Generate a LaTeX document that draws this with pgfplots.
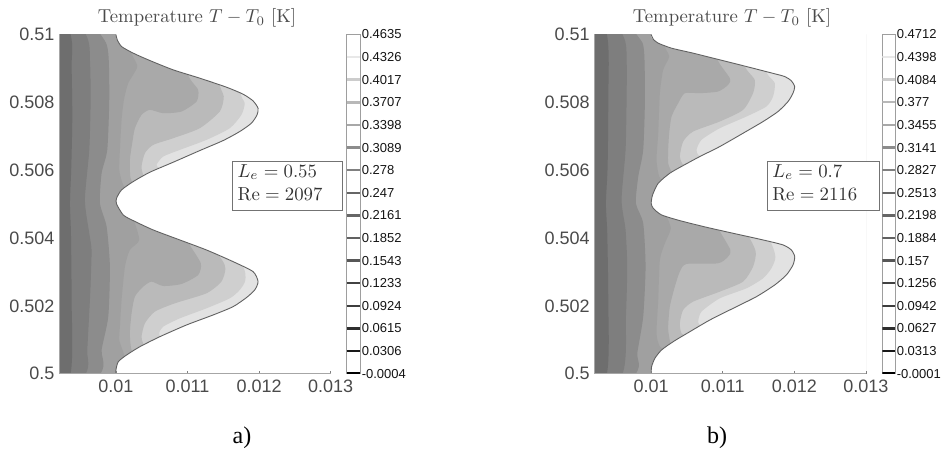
\documentclass[border=0pt]{standalone}
\usepackage{fontspec}
\usepackage{pgfplots}
\pgfplotsset{compat=1.18}
\newfontfamily\arial{Liberation Sans}
\newfontfamily\timesf{Liberation Serif}
\definecolor{cA}{HTML}{6E6E6E}
\definecolor{cB}{HTML}{7E7E7E}
\definecolor{cC}{HTML}{8C8C8C}
\definecolor{cD}{HTML}{A0A0A0}
\definecolor{cE}{HTML}{A9A9A9}
\definecolor{cF}{HTML}{BABABA}
\definecolor{cG}{HTML}{CFCFCF}
\definecolor{cH}{HTML}{E2E2E2}
\definecolor{lbl}{HTML}{4A4A4A}
\pgfplotsset{
 mainax/.style={
  scale only axis, width=272pt, height=339.2pt,
  xmin=0.009205, xmax=0.013005, ymin=0.5, ymax=0.51,
  axis on top, axis x line=bottom, axis y line=left,
  axis line style={-, draw=black!35, line width=0.9pt},
  scaled x ticks=false, scaled y ticks=false,
  xtick={0.01,0.011,0.012,0.013}, xticklabels={0.01,0.011,0.012,0.013},
  ytick={0.5,0.502,0.504,0.506,0.508,0.51},
  yticklabels={0.5,0.502,0.504,0.506,0.508,0.51},
  tick align=inside, major tick length=3pt,
  x tick style={draw=black!50, line width=0.6pt},
  y tick style={draw=none},
  xticklabel style={font=\arial\fontsize{18}{18}\selectfont, text=lbl, inner sep=0pt, yshift=-6pt},
  yticklabel style={font=\arial\fontsize{18}{18}\selectfont, text=lbl, inner sep=0pt, xshift=-4.5pt},
 },
 cbax/.style={
  scale only axis, height=339.2pt,
  xmin=0, xmax=1, axis line style={draw=black!38, line width=1pt},
  scaled y ticks=false,
  xtick=\empty, ytick pos=right, yticklabel pos=right,
  major tick length=0pt,
  yticklabel style={font=\arial\fontsize{13}{13}\selectfont, text=black!92, inner sep=0pt, anchor=west, xshift=1.6pt},
 },
 cbar/.style={draw=black!#1, line width=2.4pt, forget plot},
 reg/.style={fill=#1, draw=none, forget plot, smooth, tension=0.4},
}
\begin{document}
\begin{tikzpicture}[x=1pt,y=1pt]
\useasboundingbox (0,0) rectangle (942,452);

% ---------------- panel a
\begin{axis}[mainax, at={(59pt,78.3pt)}, anchor=south west]
\addplot[fill=cH, draw=none, forget plot] coordinates {(0.009,0.5)(0.0132,0.5)(0.0132,0.51)(0.009,0.51)} \closedcycle;
\addplot[reg=cG] coordinates {(0.009,0.512)(0.012102,0.51)(0.011753,0.508368)(0.0118,0.507975)(0.011753,0.50763)(0.011591,0.507237)(0.011265,0.506893)(0.010893,0.506598)(0.01066,0.506401)(0.010567,0.506155)(0.010605,0.506057)(0.01066,0.50591)(0.011172,0.505005)(0.011753,0.503255)(0.011809,0.502763)(0.01173,0.502468)(0.011591,0.502222)(0.011265,0.501927)(0.010893,0.501632)(0.01066,0.501386)(0.010605,0.50119)(0.01066,0.500993)(0.011172,0.5)(0.009,0.498)};
\addplot[reg=cF] coordinates {(0.009,0.512)(0.01173,0.51)(0.011451,0.508663)(0.011507,0.508171)(0.011451,0.507729)(0.011172,0.507237)(0.0108,0.506942)(0.010521,0.506745)(0.010405,0.506500)(0.010358,0.506106)(0.010381,0.50586)(0.010428,0.505664)(0.010893,0.505005)(0.011451,0.503451)(0.01153,0.503107)(0.011474,0.502714)(0.011265,0.50237)(0.010823,0.502075)(0.010544,0.501829)(0.010405,0.501485)(0.010358,0.501091)(0.010381,0.500895)(0.010451,0.500698)(0.010893,0.5)(0.009,0.498)};
\addplot[reg=cE] coordinates {(0.009,0.512)(0.011405,0.51)(0.011009,0.508909)(0.011149,0.508368)(0.011126,0.508024)(0.010916,0.507729)(0.01066,0.50768)(0.010474,0.507778)(0.010358,0.50763)(0.010265,0.507237)(0.010228,0.506795)(0.010195,0.506303)(0.010205,0.505762)(0.010288,0.505516)(0.010707,0.505005)(0.010986,0.504140)(0.011033,0.503796)(0.011186,0.503255)(0.011149,0.50291)(0.010916,0.502645)(0.01066,0.502586)(0.010498,0.502714)(0.010381,0.502566)(0.010265,0.502271)(0.010219,0.50178)(0.010195,0.50119)(0.010219,0.500698)(0.010335,0.500501)(0.010707,0.5)(0.009,0.498)};
\addplot[reg=cD] coordinates {(0.009,0.512)(0.010567,0.51)(0.010219,0.509548)(0.010298,0.509056)(0.010172,0.508565)(0.010112,0.508073)(0.010079,0.507483)(0.010056,0.506598)(0.010047,0.506008)(0.010093,0.505615)(0.010172,0.505369)(0.010474,0.505005)(0.010219,0.50473)(0.010242,0.504582)(0.010326,0.503943)(0.010195,0.503648)(0.010126,0.503156)(0.010079,0.502173)(0.010056,0.501386)(0.010047,0.500993)(0.010102,0.500649)(0.010172,0.500305)(0.010567,0.5)(0.009,0.498)};
\addplot[reg=cC] coordinates {(0.009,0.512)(0.009786,0.51)(0.009893,0.50945)(0.009907,0.508073)(0.009879,0.506598)(0.0098,0.50591)(0.009777,0.505025)(0.00987,0.504336)(0.009916,0.503156)(0.009893,0.501681)(0.0098,0.500698)(0.009786,0.5)(0.009,0.498)};
\addplot[reg=cB] coordinates {(0.009,0.512)(0.009581,0.51)(0.009637,0.509253)(0.009647,0.508073)(0.009628,0.506598)(0.009567,0.505123)(0.009628,0.50414)(0.00966,0.503648)(0.009647,0.502665)(0.009637,0.502173)(0.0096,0.500698)(0.009581,0.5)(0.009,0.498)};
\addplot[reg=cA] coordinates {(0.009,0.512)(0.009367,0.51)(0.009381,0.509056)(0.009391,0.507581)(0.009377,0.506106)(0.009358,0.505025)(0.009372,0.50414)(0.009381,0.502173)(0.009367,0.5)(0.009,0.498)};
\addplot[reg=white] coordinates {(0.0132,0.512)(0.01,0.511)(0.01,0.51)(0.010019,0.509843)(0.010079,0.509646)(0.010242,0.50945)(0.010474,0.509233)(0.0108,0.508958)(0.011172,0.508712)(0.011544,0.508447)(0.011777,0.50824)(0.011916,0.508043)(0.011986,0.507827)(0.011972,0.50763)(0.011893,0.507385)(0.01173,0.507139)(0.011498,0.506873)(0.011172,0.506578)(0.0108,0.506234)(0.010474,0.505939)(0.010242,0.505664)(0.010079,0.505418)(0.010009,0.505172)(0.010009,0.505005)(0.010102,0.504681)(0.010242,0.504513)(0.010521,0.504238)(0.010893,0.503943)(0.011265,0.503648)(0.011637,0.503304)(0.011916,0.503009)(0.011986,0.502714)(0.011939,0.502468)(0.011823,0.502242)(0.011637,0.501976)(0.011358,0.501731)(0.010986,0.501436)(0.010614,0.501091)(0.010335,0.500796)(0.010149,0.500551)(0.010033,0.500354)(0.01,0.500108)(0.01,0.5)(0.01,0.499)(0.0132,0.498)};
\addplot[draw=black!62, line width=0.9pt, forget plot, smooth, tension=0.4] coordinates {(0.01,0.51)(0.010019,0.509843)(0.010079,0.509646)(0.010242,0.50945)(0.010474,0.509233)(0.0108,0.508958)(0.011172,0.508712)(0.011544,0.508447)(0.011777,0.50824)(0.011916,0.508043)(0.011986,0.507827)(0.011972,0.50763)(0.011893,0.507385)(0.01173,0.507139)(0.011498,0.506873)(0.011172,0.506578)(0.0108,0.506234)(0.010474,0.505939)(0.010242,0.505664)(0.010079,0.505418)(0.010009,0.505172)(0.010009,0.505005)(0.010102,0.504681)(0.010242,0.504513)(0.010521,0.504238)(0.010893,0.503943)(0.011265,0.503648)(0.011637,0.503304)(0.011916,0.503009)(0.011986,0.502714)(0.011939,0.502468)(0.011823,0.502242)(0.011637,0.501976)(0.011358,0.501731)(0.010986,0.501436)(0.010614,0.501091)(0.010335,0.500796)(0.010149,0.500551)(0.010033,0.500354)(0.01,0.500108)(0.01,0.5)};
\end{axis}

% ---------------- colour bar a
\begin{axis}[cbax, at={(346.7pt,78.3pt)}, anchor=south west, width=13.3pt,
 ymin=-0.0004, ymax=0.4635,
 ytick={-0.0004,0.0306,0.0615,0.0924,0.1233,0.1543,0.1852,0.2161,0.247,0.278,0.3089,0.3398,0.3707,0.4017,0.4326,0.4635},
 yticklabels={-0.0004,0.0306,0.0615,0.0924,0.1233,0.1543,0.1852,0.2161,0.247,0.278,0.3089,0.3398,0.3707,0.4017,0.4326,0.4635}]
\addplot[cbar=100] coordinates {(0,-0.0004)(1,-0.0004)};
\addplot[cbar=90] coordinates {(0,0.0306)(1,0.0306)};
\addplot[cbar=82] coordinates {(0,0.0615)(1,0.0615)};
\addplot[cbar=76] coordinates {(0,0.0924)(1,0.0924)};
\addplot[cbar=74] coordinates {(0,0.1233)(1,0.1233)};
\addplot[cbar=66] coordinates {(0,0.1543)(1,0.1543)};
\addplot[cbar=62] coordinates {(0,0.1852)(1,0.1852)};
\addplot[cbar=60] coordinates {(0,0.2161)(1,0.2161)};
\addplot[cbar=60] coordinates {(0,0.247)(1,0.247)};
\addplot[cbar=50] coordinates {(0,0.278)(1,0.278)};
\addplot[cbar=45] coordinates {(0,0.3089)(1,0.3089)};
\addplot[cbar=34] coordinates {(0,0.3398)(1,0.3398)};
\addplot[cbar=28] coordinates {(0,0.3707)(1,0.3707)};
\addplot[cbar=20] coordinates {(0,0.4017)(1,0.4017)};
\addplot[cbar=9] coordinates {(0,0.4326)(1,0.4326)};
\end{axis}

% ---------------- panel b
\begin{axis}[mainax, at={(594.3pt,78.3pt)}, anchor=south west]
\addplot[fill=cH, draw=none, forget plot] coordinates {(0.009,0.5)(0.0132,0.5)(0.0132,0.51)(0.009,0.51)} \closedcycle;
\addplot[reg=cG] coordinates {(0.009,0.512)(0.012074,0.51)(0.011609,0.509007)(0.011726,0.508565)(0.011702,0.508171)(0.011609,0.507876)(0.01133,0.507581)(0.010958,0.507237)(0.010702,0.506893)(0.010633,0.506598)(0.010656,0.50645)(0.010726,0.506303)(0.011144,0.505005)(0.011633,0.503992)(0.011735,0.503451)(0.011679,0.503107)(0.011563,0.502812)(0.01133,0.502517)(0.010958,0.502222)(0.010702,0.501829)(0.010656,0.501534)(0.010679,0.501436)(0.010772,0.501288)(0.011144,0.5)(0.009,0.498)};
\addplot[reg=cF] coordinates {(0.009,0.512)(0.011702,0.51)(0.011307,0.509155)(0.011446,0.508663)(0.011423,0.50827)(0.011284,0.507778)(0.010958,0.507434)(0.010586,0.507139)(0.010446,0.506844)(0.0104,0.506401)(0.010437,0.506185)(0.010516,0.506057)(0.010958,0.505005)(0.01133,0.50414)(0.01146,0.503599)(0.011423,0.503156)(0.011284,0.502714)(0.010958,0.502419)(0.010586,0.502124)(0.010446,0.501878)(0.0104,0.501485)(0.010423,0.50119)(0.010516,0.501042)(0.010958,0.5)(0.009,0.498)};
\addplot[reg=cE] coordinates {(0.009,0.512)(0.01133,0.51)(0.010912,0.5094)(0.011098,0.508712)(0.011074,0.508515)(0.010935,0.508319)(0.010679,0.50827)(0.01047,0.50827)(0.010377,0.507975)(0.010284,0.507581)(0.010251,0.50709)(0.010237,0.506598)(0.010237,0.506205)(0.010284,0.505959)(0.010353,0.505811)(0.010772,0.505005)(0.010935,0.504287)(0.011107,0.503648)(0.011074,0.503451)(0.010935,0.503255)(0.010493,0.503235)(0.0104,0.503009)(0.01033,0.502566)(0.01026,0.501976)(0.010237,0.501386)(0.010251,0.501091)(0.010307,0.500796)(0.010772,0.5)(0.009,0.498)};
\addplot[reg=cD] coordinates {(0.009,0.512)(0.010586,0.51)(0.010191,0.509745)(0.010251,0.509351)(0.010167,0.508958)(0.010121,0.50827)(0.010098,0.50709)(0.010074,0.506303)(0.010112,0.505811)(0.010191,0.505615)(0.010493,0.505005)(0.010214,0.504779)(0.010274,0.504287)(0.010191,0.503845)(0.010121,0.503353)(0.010098,0.502173)(0.010074,0.50119)(0.010121,0.500796)(0.010237,0.500649)(0.010586,0.5)(0.009,0.498)};
\addplot[reg=cC] coordinates {(0.009,0.512)(0.009795,0.51)(0.009898,0.509548)(0.009912,0.508073)(0.009888,0.506598)(0.009819,0.505811)(0.009786,0.505025)(0.009888,0.504435)(0.009921,0.503156)(0.009888,0.501681)(0.009805,0.5006)(0.009786,0.5)(0.009,0.498)};
\addplot[reg=cB] coordinates {(0.009,0.512)(0.0096,0.51)(0.009656,0.509253)(0.009656,0.508073)(0.009642,0.506598)(0.009586,0.505123)(0.009642,0.504238)(0.009665,0.503156)(0.009647,0.501681)(0.0096,0.5)(0.009,0.498)};
\addplot[reg=cA] coordinates {(0.009,0.512)(0.009381,0.51)(0.0094,0.508073)(0.009391,0.506106)(0.009367,0.505025)(0.009386,0.50414)(0.0094,0.502173)(0.009381,0.5)(0.009,0.498)};
\addplot[reg=white] coordinates {(0.0132,0.512)(0.01,0.511)(0.01,0.51)(0.010028,0.509863)(0.010098,0.509745)(0.010284,0.509597)(0.010586,0.50945)(0.010958,0.509253)(0.01133,0.509056)(0.011656,0.508879)(0.011865,0.508761)(0.011958,0.508633)(0.012005,0.508466)(0.011981,0.50827)(0.011912,0.508024)(0.011772,0.507729)(0.011563,0.507434)(0.011284,0.50709)(0.010958,0.506696)(0.010679,0.506401)(0.010446,0.506136)(0.01026,0.50591)(0.010098,0.505615)(0.010019,0.50527)(0.01,0.505025)(0.010028,0.504877)(0.010144,0.504681)(0.0104,0.504513)(0.010772,0.504317)(0.011144,0.50414)(0.011563,0.503943)(0.011842,0.503796)(0.011958,0.503648)(0.012005,0.503451)(0.011981,0.503206)(0.011888,0.50291)(0.011726,0.502616)(0.01147,0.502271)(0.011144,0.501927)(0.010819,0.501583)(0.01054,0.501239)(0.010307,0.500944)(0.010144,0.500698)(0.010051,0.500452)(0.010005,0.500206)(0.01,0.5)(0.01,0.499)(0.0132,0.498)};
\addplot[draw=black!62, line width=0.9pt, forget plot, smooth, tension=0.4] coordinates {(0.01,0.51)(0.010028,0.509863)(0.010098,0.509745)(0.010284,0.509597)(0.010586,0.50945)(0.010958,0.509253)(0.01133,0.509056)(0.011656,0.508879)(0.011865,0.508761)(0.011958,0.508633)(0.012005,0.508466)(0.011981,0.50827)(0.011912,0.508024)(0.011772,0.507729)(0.011563,0.507434)(0.011284,0.50709)(0.010958,0.506696)(0.010679,0.506401)(0.010446,0.506136)(0.01026,0.50591)(0.010098,0.505615)(0.010019,0.50527)(0.01,0.505025)(0.010028,0.504877)(0.010144,0.504681)(0.0104,0.504513)(0.010772,0.504317)(0.011144,0.50414)(0.011563,0.503943)(0.011842,0.503796)(0.011958,0.503648)(0.012005,0.503451)(0.011981,0.503206)(0.011888,0.50291)(0.011726,0.502616)(0.01147,0.502271)(0.011144,0.501927)(0.010819,0.501583)(0.01054,0.501239)(0.010307,0.500944)(0.010144,0.500698)(0.010051,0.500452)(0.010005,0.500206)(0.01,0.5)};
\end{axis}

% ---------------- colour bar b
\begin{axis}[cbax, at={(882.3pt,78.3pt)}, anchor=south west, width=12.7pt,
 ymin=-0.0001, ymax=0.4712,
 ytick={-0.0001,0.0313,0.0627,0.0942,0.1256,0.157,0.1884,0.2198,0.2513,0.2827,0.3141,0.3455,0.377,0.4084,0.4398,0.4712},
 yticklabels={-0.0001,0.0313,0.0627,0.0942,0.1256,0.157,0.1884,0.2198,0.2513,0.2827,0.3141,0.3455,0.377,0.4084,0.4398,0.4712}]
\addplot[cbar=100] coordinates {(0,-0.0001)(1,-0.0001)};
\addplot[cbar=90] coordinates {(0,0.0313)(1,0.0313)};
\addplot[cbar=82] coordinates {(0,0.0627)(1,0.0627)};
\addplot[cbar=76] coordinates {(0,0.0942)(1,0.0942)};
\addplot[cbar=74] coordinates {(0,0.1256)(1,0.1256)};
\addplot[cbar=66] coordinates {(0,0.157)(1,0.157)};
\addplot[cbar=62] coordinates {(0,0.1884)(1,0.1884)};
\addplot[cbar=60] coordinates {(0,0.2198)(1,0.2198)};
\addplot[cbar=60] coordinates {(0,0.2513)(1,0.2513)};
\addplot[cbar=50] coordinates {(0,0.2827)(1,0.2827)};
\addplot[cbar=45] coordinates {(0,0.3141)(1,0.3141)};
\addplot[cbar=34] coordinates {(0,0.3455)(1,0.3455)};
\addplot[cbar=28] coordinates {(0,0.377)(1,0.377)};
\addplot[cbar=20] coordinates {(0,0.4084)(1,0.4084)};
\addplot[cbar=9] coordinates {(0,0.4398)(1,0.4398)};
\end{axis}

% ---------------- texts
\node[scale=1.87, text=lbl] at (197,434) {Temperature $T-T_0$ [K]};
\node[scale=1.87, text=lbl] at (732,434) {Temperature $T-T_0$ [K]};

\draw[draw=black!55, fill=white, line width=0.8pt] (232.7,242) rectangle (342.7,291);
\node[scale=1.88, text=black!80, anchor=west, inner sep=0pt] at (237.3,280) {$L_e=0.55$};
\node[scale=1.88, text=black!80, anchor=west, inner sep=0pt] at (237.3,258) {$\mathrm{Re}=2097$};

\draw[draw=black!55, fill=white, line width=0.8pt] (767.3,242) rectangle (879.3,291);
\node[scale=1.88, text=black!80, anchor=west, inner sep=0pt] at (772,280) {$L_e=0.7$};
\node[scale=1.88, text=black!80, anchor=west, inner sep=0pt] at (772,258) {$\mathrm{Re}=2116$};

\node[font=\timesf\fontsize{24}{24}\selectfont, text=black] at (242,14) {a)};
\node[font=\timesf\fontsize{24}{24}\selectfont, text=black] at (717,14) {b)};
\end{tikzpicture}
\end{document}
